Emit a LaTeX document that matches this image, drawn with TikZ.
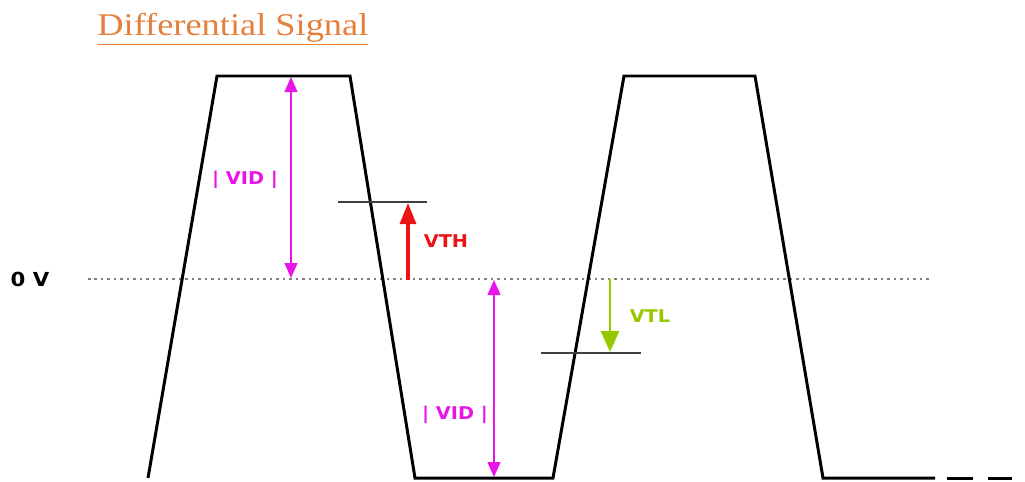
\documentclass[tikz,border=0pt]{standalone}
\usepackage{fontspec}
\setmainfont{Liberation Serif}
\setsansfont{DejaVu Sans}
\usepackage{tikz}
\usetikzlibrary{positioning,
  arrows.meta
}
\definecolor{vidpink}{RGB}{232,20,232}
\definecolor{thred}{RGB}{235,20,20}
\definecolor{tlgreen}{RGB}{150,200,0}
\definecolor{titleorange}{RGB}{228,128,60}

\begin{document}
\begin{tikzpicture}[x=0.02cm, y=-0.02cm,
  signal/.style={line width=1.7pt, black, line join=miter},
  level/.style={line width=1.3pt, black!75},
  zero/.style={line width=1.2pt, gray, dash pattern=on 0.05cm off 0.08cm},
  vid/.style={vidpink, line width=0.8pt, {Triangle[length=0.3cm, width=0.26cm]}-{Triangle[length=0.3cm, width=0.26cm]}},
  lbl/.style={font=\sffamily\bfseries\fontsize{10}{12}\selectfont, inner sep=0pt, xscale=1.1}]
  \useasboundingbox (0,0) rectangle (1025,481);

  % title
  \node[titleorange, inner sep=0pt, anchor=base west, xscale=1.15,
        font=\fontsize{18}{20}\selectfont] (title) at (97,35) {\underline{Differential Signal}};

  % waveform corners
  \coordinate (s0) at (148,478);
  \coordinate (h1) at (217,76);  \coordinate (h2) at (350,76);
  \coordinate (l1) at (415,478); \coordinate (l2) at (553,478);
  \coordinate (h3) at (624,76);  \coordinate (h4) at (755,76);
  \coordinate (l3) at (823,478); \coordinate (l4) at (935,478);
  \coordinate (d1) at (947,478); \coordinate (d2) at (973,478);
  \coordinate (d3) at (988,478); \coordinate (d4) at (1012,478);

  % 0 V reference
  \node[lbl, font=\sffamily\bfseries\fontsize{11}{12}\selectfont] (zv) at (30,279) {0 V};
  \coordinate (za) at (88,279);
  \coordinate (zb) at (930,279);
  \draw[zero] (za) -- (zb);

  \draw[signal] (s0) -- (h1) -- (h2) -- (l1) -- (l2) -- (h3) -- (h4) -- (l3) -- (l4);
  \draw[signal] (d1) -- (d2);
  \draw[signal] (d3) -- (d4);

  % thresholds
  \coordinate (tha) at (338,202); \coordinate (thb) at (427,202);
  \coordinate (tla) at (541,353); \coordinate (tlb) at (641,353);
  \draw[level] (tha) -- (thb);
  \draw[level] (tla) -- (tlb);

  \coordinate (vth0) at (408,280); \coordinate (vth1) at (408,203);
  \coordinate (vtl0) at (610,279); \coordinate (vtl1) at (610,352);
  \draw[thred, line width=1.8pt, -{Triangle[length=0.42cm, width=0.32cm]}] (vth0) -- (vth1);
  \draw[tlgreen, line width=1.6pt, -{Triangle[length=0.42cm, width=0.36cm]}] (vtl0) -- (vtl1);
  \node[lbl, thred] (vth) at (446,241) {VTH};
  \node[lbl, tlgreen] (vtl) at (650,316) {VTL};

  % differential swing
  \coordinate (v1a) at (291,77);  \coordinate (v1b) at (291,278);
  \coordinate (v2a) at (494,280); \coordinate (v2b) at (494,477);
  \draw[vid] (v1a) -- (v1b);
  \draw[vid] (v2a) -- (v2b);
  \node[lbl, vidpink] (vid1) at (245,180) {| VID |};
  \node[lbl, vidpink] (vid2) at (455,415) {| VID |};
\end{tikzpicture}
\end{document}
